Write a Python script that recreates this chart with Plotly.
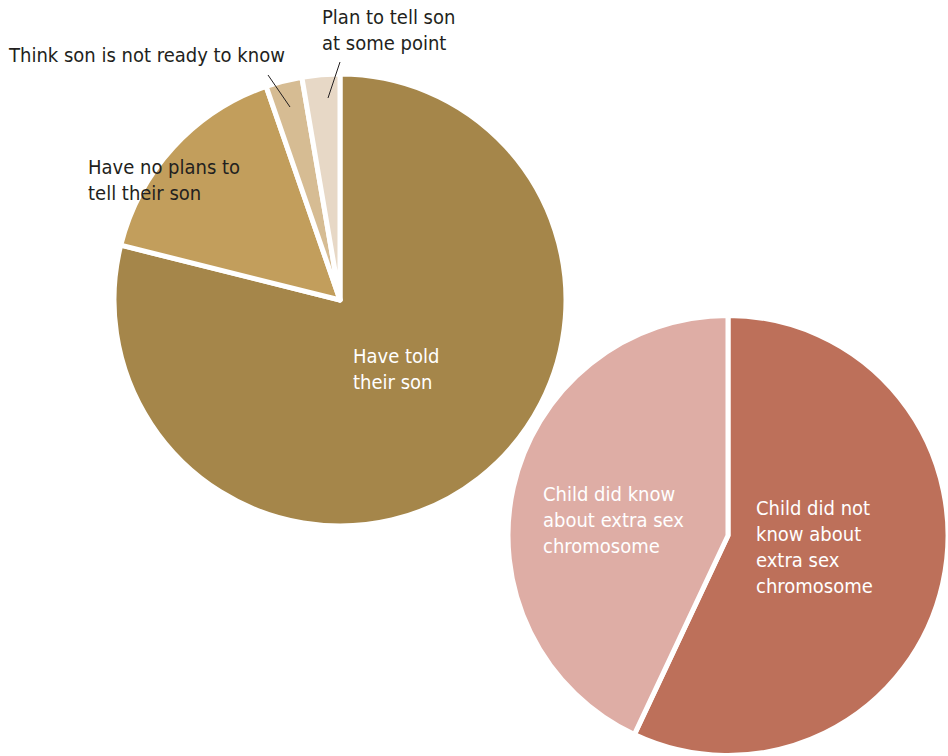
import plotly.graph_objects as go

W, H = 948, 756

# Pie 1: parents telling their son
tell_labels = ["Have told their son", "Have no plans to tell their son",
               "Think son is not ready to know", "Plan to tell son at some point"]
tell_values = [78.9, 15.8, 2.6, 2.7]
tell_colors = ["#A5864A", "#C29E5C", "#D6BC93", "#E7D8C6"]

# Pie 2: child knowledge
know_labels = ["Child did not know about extra sex chromosome",
               "Child did know about extra sex chromosome"]
know_values = [57.0, 43.0]
know_colors = ["#BD705A", "#DEADA5"]

FONT = "DejaVu Sans Condensed, Roboto, sans-serif"
DARK = "#231F20"
FS = 20


def px_x(x):
    return x / W


def px_y(y):
    return 1 - y / H


def domain(cx, cy, r):
    return dict(x=[px_x(cx - r), px_x(cx + r)], y=[px_y(cy + r), px_y(cy - r)])


fig = go.Figure()
fig.add_trace(go.Pie(
    labels=tell_labels, values=tell_values, sort=False, direction="clockwise",
    rotation=0, textinfo="none", hoverinfo="label+percent",
    marker=dict(colors=tell_colors, line=dict(color="white", width=5)),
    domain=domain(340, 300, 226), showlegend=False,
))
fig.add_trace(go.Pie(
    labels=know_labels, values=know_values, sort=False, direction="clockwise",
    rotation=0, textinfo="none", hoverinfo="label+percent",
    marker=dict(colors=know_colors, line=dict(color="white", width=5)),
    domain=dict(x=[px_x(508), px_x(948)], y=[px_y(756), px_y(315)]), showlegend=False,
))

annos = [
    ("Plan to tell son<br>at some point", 320, 30, DARK),
    ("Think son is not ready to know", 6, 55, DARK),
    ("Have no plans to<br>tell their son", 86, 180, DARK),
    ("Have told<br>their son", 351, 369, "white"),
    ("Child did know<br>about extra sex<br>chromosome", 541, 520, "white"),
    ("Child did not<br>know about<br>extra sex<br>chromosome", 754, 547, "white"),
]
for text, x, y, col in annos:
    fig.add_annotation(
        text=text, x=px_x(x), y=px_y(y), xref="paper", yref="paper",
        xanchor="left", yanchor="middle", align="left", showarrow=False,
        font=dict(family=FONT, size=FS, color=col),
    )

for (x0, y0, x1, y1) in [(268, 75, 290, 107), (340, 62, 328, 98)]:
    fig.add_shape(type="line", xref="paper", yref="paper",
                  x0=px_x(x0), y0=px_y(y0), x1=px_x(x1), y1=px_y(y1),
                  line=dict(color=DARK, width=1))

fig.update_layout(
    width=W, height=H, margin=dict(l=0, r=0, t=0, b=0),
    paper_bgcolor="white", plot_bgcolor="white",
)

fig.write_html("out.html")
